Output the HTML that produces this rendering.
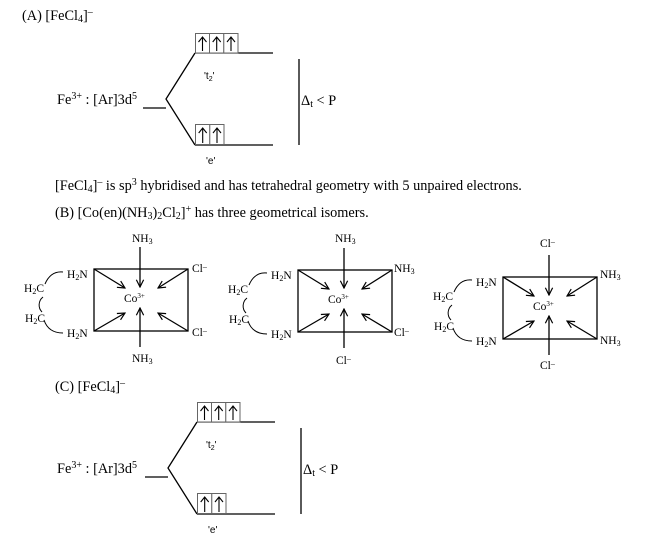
<!DOCTYPE html>
<html><head><meta charset="utf-8"><style>
html,body{margin:0;padding:0;background:#fff;}
svg{display:block;}
.t{font-family:"Liberation Serif",serif;font-size:14.3px;fill:#000;}
.s{font-family:"Liberation Serif",serif;font-size:11.5px;fill:#000;}
.a{font-family:"Liberation Sans",sans-serif;font-size:10px;fill:#000;}
</style></head><body>
<svg width="656" height="539" viewBox="0 0 656 539" xmlns="http://www.w3.org/2000/svg">
<defs>
<marker id="ah" viewBox="0 0 10 10" refX="9" refY="5" markerWidth="7" markerHeight="7" orient="auto" markerUnits="strokeWidth">
<polyline points="1,1 9,5 1,9" fill="none" stroke="#000" stroke-width="1.3"/>
</marker>
<g id="diag">
<g stroke="#000" stroke-width="1.3" fill="none">
<line x1="143" y1="108" x2="166" y2="108"/>
<polyline points="195,53 166,99 195,145"/>
<line x1="195" y1="53" x2="273" y2="53"/>
<line x1="195" y1="145" x2="273" y2="145"/>
<line x1="299" y1="59" x2="299" y2="145"/>
</g>
<g stroke="#666" stroke-width="1" fill="#fff">
<rect x="195.5" y="33.5" width="14" height="19.5"/>
<rect x="209.5" y="33.5" width="14.3" height="19.5"/>
<rect x="223.8" y="33.5" width="14.2" height="19.5"/>
<rect x="195.5" y="124.5" width="14.3" height="20"/>
<rect x="209.8" y="124.5" width="14.2" height="20"/>
</g>
<g stroke="#000" stroke-width="1.1" fill="none">
<path d="M202.5,51 V37 M198.5,42 L202.5,37 L206.5,42"/>
<path d="M216.7,51 V37 M212.7,42 L216.7,37 L220.7,42"/>
<path d="M231,51 V37 M227,42 L231,37 L235,42"/>
<path d="M202.7,143 V128 M198.7,133 L202.7,128 L206.7,133"/>
<path d="M217,143 V128 M213,133 L217,128 L221,133"/>
</g>
<text class="a" x="204" y="79">'t<tspan font-size="7" dy="2">2</tspan><tspan dy="-2">'</tspan></text>
<text class="a" x="206" y="164">'e'</text>
</g>
<g id="cx">
<rect x="94" y="269" width="94" height="62" fill="none" stroke="#000" stroke-width="1.3"/>
<g stroke="#000" stroke-width="1.3" fill="none" marker-end="url(#ah)">
<line x1="140" y1="247" x2="140" y2="287"/>
<line x1="140" y1="347" x2="140" y2="308"/>
<line x1="94" y1="269" x2="125" y2="288"/>
<line x1="188" y1="269" x2="158" y2="288"/>
<line x1="94" y1="331" x2="125" y2="313"/>
<line x1="188" y1="331" x2="158" y2="313"/>
</g>
<g stroke="#000" stroke-width="1" fill="none">
<path d="M63,272 C53,271 48,277 45,284"/>
<path d="M43,297 C38,301 38,308 42,312"/>
<path d="M44,320 C47,329 54,333 63,333"/>
</g>
<text class="s" x="67" y="278">H<tspan font-size="8" dy="2">2</tspan><tspan dy="-2">N</tspan></text>
<text class="s" x="67" y="337">H<tspan font-size="8" dy="2">2</tspan><tspan dy="-2">N</tspan></text>
<text class="s" x="24" y="292">H<tspan font-size="8" dy="2">2</tspan><tspan dy="-2">C</tspan></text>
<text class="s" x="25" y="322">H<tspan font-size="8" dy="2">2</tspan><tspan dy="-2">C</tspan></text>
<text class="s" x="124" y="302" font-size="11.5">Co<tspan font-size="7" dy="-4">3+</tspan></text>
</g>
</defs>

<rect width="656" height="539" fill="#fff"/>

<!-- (A) -->
<text class="t" x="22" y="20">(A) [FeCl<tspan font-size="10" dy="2">4</tspan><tspan dy="-2">]</tspan><tspan font-size="10" dy="-5">–</tspan></text>
<use href="#diag"/>
<text class="t" x="57" y="104">Fe<tspan font-size="10" dy="-5">3+</tspan><tspan dy="5"> : [Ar]3d</tspan><tspan font-size="10" dy="-5">5</tspan></text>
<text class="t" x="301" y="105">Δ<tspan font-size="10" dy="2">t</tspan><tspan dy="-2"> &lt; P</tspan></text>

<text class="t" x="55" y="190">[FeCl<tspan font-size="10" dy="2">4</tspan><tspan dy="-2">]</tspan><tspan font-size="10" dy="-5">–</tspan><tspan dy="5"> is sp</tspan><tspan font-size="10" dy="-5">3</tspan><tspan dy="5"> hybridised and has tetrahedral geometry with 5 unpaired electrons.</tspan></text>
<text class="t" x="55" y="217">(B) [Co(en)(NH<tspan font-size="10" dy="2">3</tspan><tspan dy="-2">)</tspan><tspan font-size="10" dy="2">2</tspan><tspan dy="-2">Cl</tspan><tspan font-size="10" dy="2">2</tspan><tspan dy="-2">]</tspan><tspan font-size="10" dy="-5">+</tspan><tspan dy="5"> has three geometrical isomers.</tspan></text>

<!-- complex 1 -->
<use href="#cx"/>
<text class="s" x="132" y="242">NH<tspan font-size="8" dy="2">3</tspan></text>
<text class="s" x="132" y="362">NH<tspan font-size="8" dy="2">3</tspan></text>
<text class="s" x="192" y="272">Cl<tspan font-size="8" dy="-3">–</tspan></text>
<text class="s" x="192" y="336">Cl<tspan font-size="8" dy="-3">–</tspan></text>

<!-- complex 2 -->
<g transform="translate(204,1)">
<use href="#cx"/>
<text class="s" x="131" y="241">NH<tspan font-size="8" dy="2">3</tspan></text>
<text class="s" x="132" y="363">Cl<tspan font-size="8" dy="-3">–</tspan></text>
<text class="s" x="190" y="271">NH<tspan font-size="8" dy="2">3</tspan></text>
<text class="s" x="190" y="335">Cl<tspan font-size="8" dy="-3">–</tspan></text>
</g>

<!-- complex 3 -->
<g transform="translate(409,8)">
<use href="#cx"/>
<text class="s" x="131" y="239">Cl<tspan font-size="8" dy="-3">–</tspan></text>
<text class="s" x="131" y="361">Cl<tspan font-size="8" dy="-3">–</tspan></text>
<text class="s" x="191" y="270">NH<tspan font-size="8" dy="2">3</tspan></text>
<text class="s" x="191" y="336">NH<tspan font-size="8" dy="2">3</tspan></text>
</g>

<!-- (C) -->
<text class="t" x="55" y="391">(C) [FeCl<tspan font-size="10" dy="2">4</tspan><tspan dy="-2">]</tspan><tspan font-size="10" dy="-5">–</tspan></text>
<g transform="translate(2,369)"><use href="#diag"/></g>
<text class="t" x="57" y="473">Fe<tspan font-size="10" dy="-5">3+</tspan><tspan dy="5"> : [Ar]3d</tspan><tspan font-size="10" dy="-5">5</tspan></text>
<text class="t" x="303" y="474">Δ<tspan font-size="10" dy="2">t</tspan><tspan dy="-2"> &lt; P</tspan></text>
</svg>
</body></html>
